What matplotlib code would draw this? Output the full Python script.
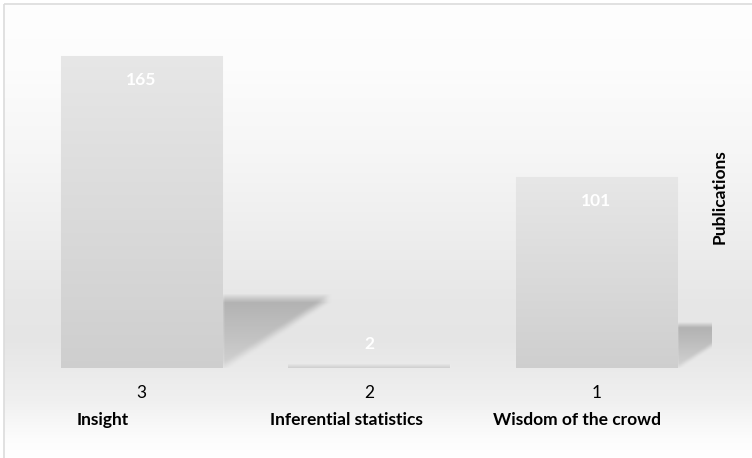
"""Publications per topic, glossy bar chart"""

import numpy as np
import matplotlib

matplotlib.use("Agg")
import matplotlib.pyplot as plt
from matplotlib.patches import Rectangle

categories = ["Insight", "Inferential statistics", "Wisdom of the crowd"]
ranks = ["3", "2", "1"]
publications = [165, 2, 101]

plt.rcParams["font.family"] = ["Lato", "DejaVu Sans"]
FS = 12.5

W, H = 752, 458
fig = plt.figure(figsize=(W / 100, H / 100), dpi=100)

# background: framed vertical gradient
bg = fig.add_axes([0, 0, 1, 1])
bg.set_xlim(0, W)
bg.set_ylim(H, 0)
bg.axis("off")
rows = np.linspace(0, H, 200)
stops_y = [0, 60, 150, 300, 340, 400, 440, 458]
stops_c = [0.995, 0.99, 0.965, 0.905, 0.9, 0.94, 0.99, 1.0]
shade = np.interp(rows, stops_y, stops_c)
grad = np.repeat(shade[:, None, None], 3, axis=2)
bg.imshow(grad, extent=(4, W, H, 4), aspect="auto", interpolation="bilinear")
bg.add_patch(Rectangle((4, 4), W, H, fill=False, edgecolor="#dcdcdc", lw=1.2))

# plot area in pixel geometry
left_px, right_px, top_px, base_px = 27.75, 712, 20, 368
px_per_x, px_per_y = 227.5, 1.89
ax = fig.add_axes([left_px / W, (H - base_px) / H,
                   (right_px - left_px) / W, (base_px - top_px) / H])
ax.set_xlim(-0.5, (right_px - left_px) / px_per_x - 0.5)
ax.set_ylim(0, (base_px - top_px) / px_per_y)
ax.patch.set_alpha(0)
for s in ax.spines.values():
    s.set_visible(False)

x = np.arange(len(categories))
width = 0.708


def blur(a, k):
    kern = np.ones(k) / k
    a = np.apply_along_axis(lambda r: np.convolve(r, kern, mode="same"), 1, a)
    a = np.apply_along_axis(lambda c: np.convolve(c, kern, mode="same"), 0, a)
    return a


# soft triangular shadows to the right of the bars
for xi, v in zip(x, publications):
    right = xi + width / 2
    h = 0.225 * v
    top_w = 0.00288 * v
    if h < 1:
        continue
    pad_x = 0.03
    n_x, n_y = 160, 80
    gx = np.linspace(right - pad_x, right + top_w + pad_x, n_x)
    gy = np.linspace(0, h * 1.15, n_y)
    X, Y = np.meshgrid(gx, gy)
    edge = right + top_w * (Y / h)
    mask = ((X >= right) & (X <= edge) & (Y <= h)).astype(float)
    mask = blur(mask, 9)
    fade = 0.4 + 0.6 * np.clip(Y / h, 0, 1)
    img = np.zeros((n_y, n_x, 4))
    img[..., :3] = 0.64
    img[..., 3] = mask * fade * 0.8
    ax.imshow(img, extent=(gx[0], gx[-1], 0, gy[-1]), origin="lower",
              aspect="auto", interpolation="bilinear", zorder=1)

# bars with vertical gradient
bars = ax.bar(x, publications, width=width, color="none",
              edgecolor="#ebebeb", lw=0.8, zorder=2)
bar_grad = np.linspace(0.81, 0.905, 100)[:, None, None] * np.ones((1, 1, 3))
for b in bars:
    bx, by = b.get_x(), b.get_y()
    im = ax.imshow(bar_grad, extent=(bx, bx + b.get_width(), by, by + b.get_height()),
                   origin="lower", aspect="auto", interpolation="bilinear", zorder=2)
    im.set_clip_path(b)

for xi, v in zip(x, publications):
    off = -17.5 if v > 20 else 14.5
    ax.annotate(str(v), (xi, v), xytext=(0, off), textcoords="offset points",
                ha="center", va="center", color="white", fontsize=FS,
                fontweight="bold", zorder=3)

ax.set_yticks([])
ax.set_xticks(x)
ax.set_xticklabels(ranks, fontsize=FS)
ax.tick_params(axis="x", length=0, pad=12.5)

label_x = [77, 270, 493]
for lx, name in zip(label_x, categories):
    fig.text(lx / W, 1 - 420 / H, name, ha="left", va="center",
             fontsize=FS, fontweight="bold")

fig.text(720 / W, 1 - 197 / H, "Publications", rotation=90, ha="center",
         va="center", fontsize=FS, fontweight="bold")

fig.savefig("out.png", dpi=100)
